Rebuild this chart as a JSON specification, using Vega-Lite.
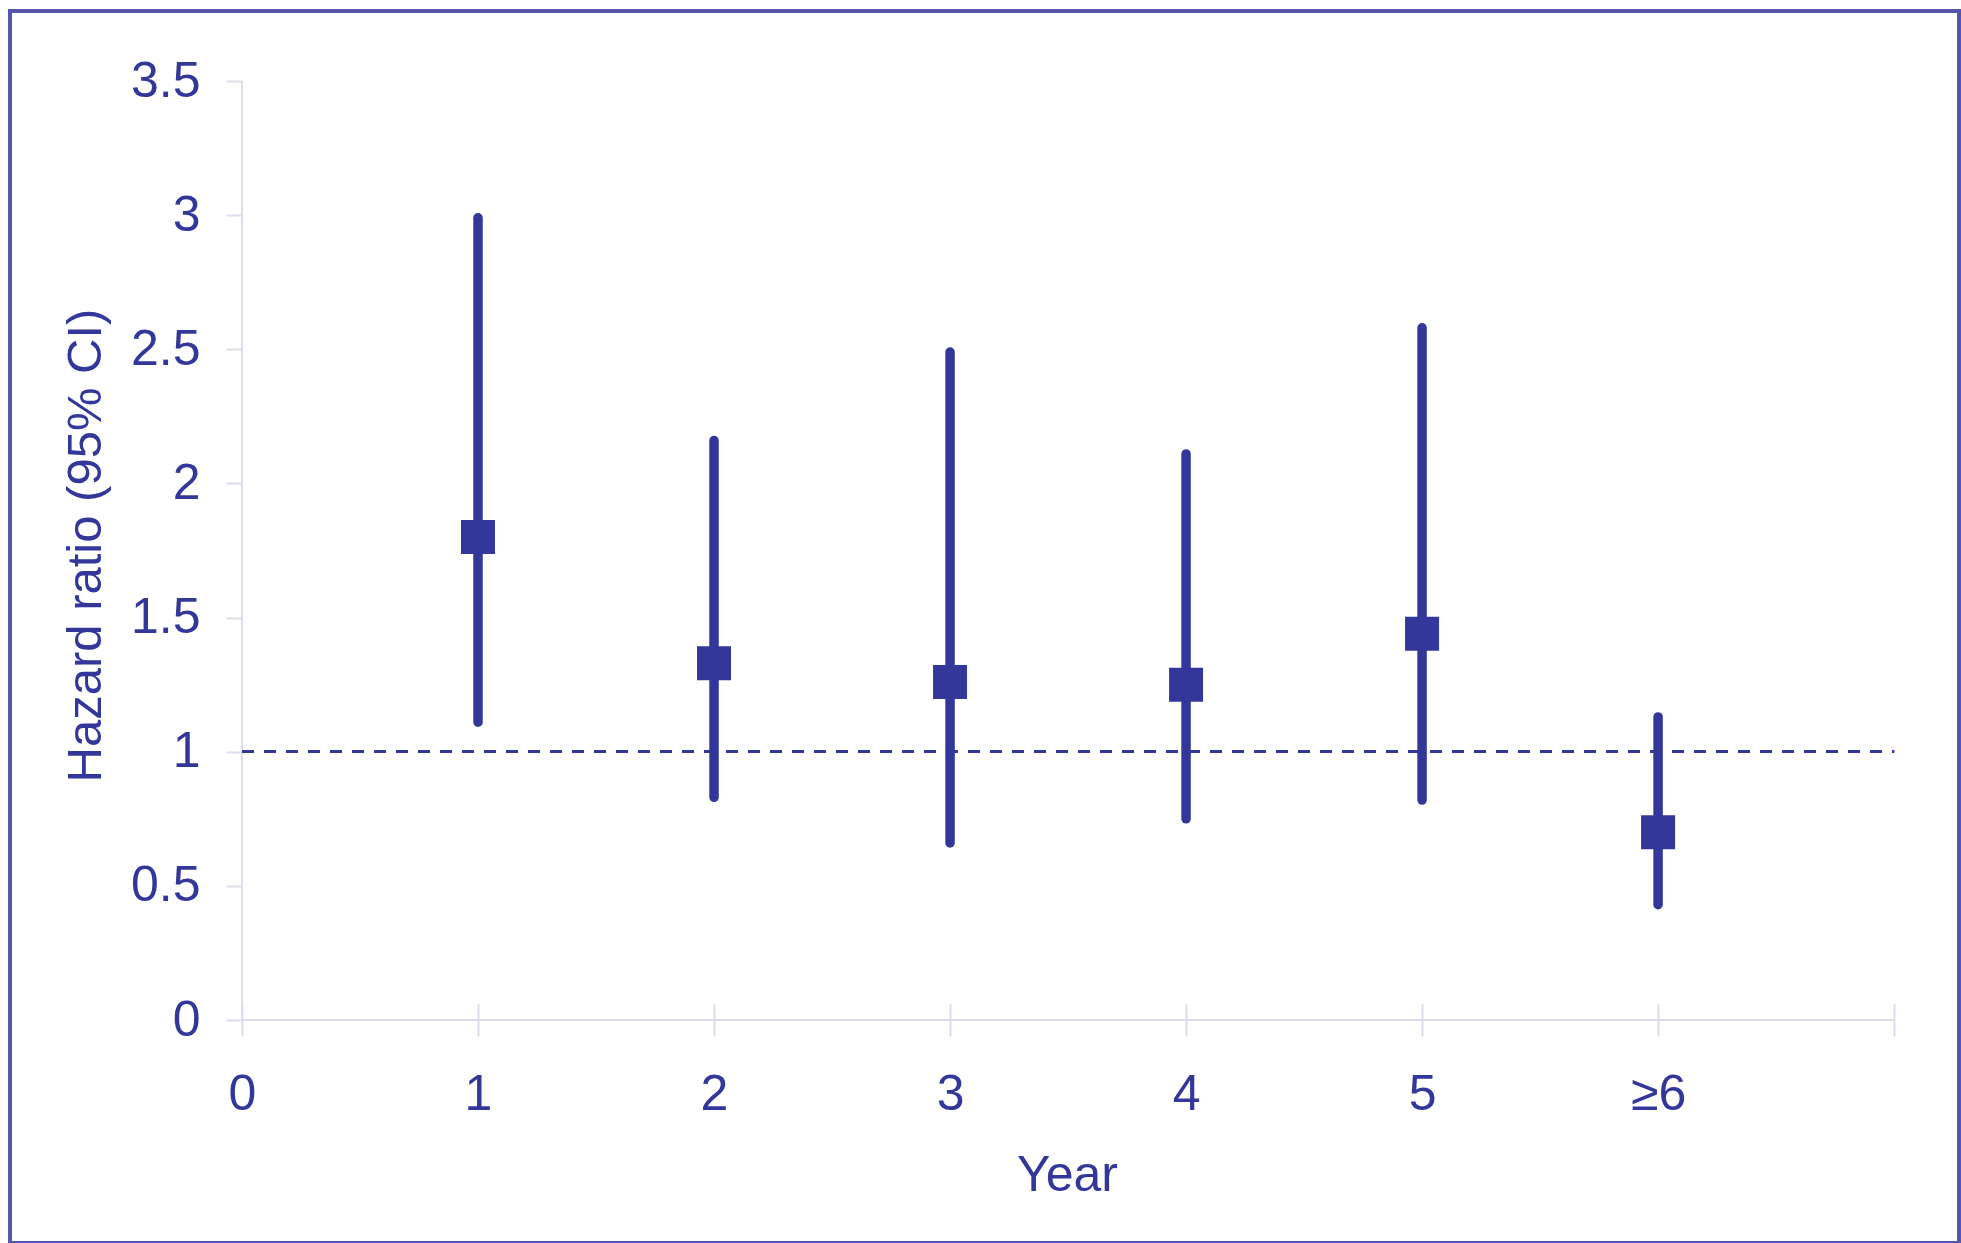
{
  "$schema": "https://vega.github.io/schema/vega-lite/v6.json",
  "width": 1949,
  "height": 1232,
  "autosize": {"type": "none"},
  "padding": {"left": 10, "top": 11, "right": 2, "bottom": 0},
  "background": "white",
  "config": {
    "view": {"stroke": "#5356aa", "strokeWidth": 4},
    "font": "Liberation Sans"
  },
  "data": {
    "values": [
      {"year": 1, "label": "1", "hr": 1.80, "lo": 1.11, "hi": 2.99},
      {"year": 2, "label": "2", "hr": 1.33, "lo": 0.83, "hi": 2.16},
      {"year": 3, "label": "3", "hr": 1.26, "lo": 0.66, "hi": 2.49},
      {"year": 4, "label": "4", "hr": 1.25, "lo": 0.75, "hi": 2.11},
      {"year": 5, "label": "5", "hr": 1.44, "lo": 0.82, "hi": 2.58},
      {"year": 6, "label": "≥6", "hr": 0.70, "lo": 0.43, "hi": 1.13}
    ]
  },
  "encoding": {
    "x": {
      "field": "year",
      "type": "quantitative",
      "scale": {"domain": [-0.983, 7.275], "nice": false, "zero": false},
      "axis": {
        "title": "Year",
        "orient": "bottom",
        "offset": -239,
        "values": [0, 1, 2, 3, 4, 5, 6, 7],
        "labelExpr": "datum.value == 6 ? '≥6' : (datum.value == 7 ? '' : datum.label)",
        "domain": false,
        "grid": false,
        "ticks": true,
        "tickSize": 32,
        "tickWidth": 2,
        "tickColor": "#dcdcee",
        "labelFontSize": 50,
        "labelColor": "#33379a",
        "labelPadding": 33,
        "labelFlush": false,
        "labelOverlap": false,
        "titleFontSize": 50,
        "titleFontWeight": "normal",
        "titleColor": "#33379a",
        "titleBaseline": "alphabetic",
        "titleX": 1057,
        "titleY": 186,
        "titleAnchor": null
      }
    },
    "y": {
      "field": "hr",
      "type": "quantitative",
      "scale": {"domain": [-0.831, 3.761], "nice": false, "zero": false},
      "axis": {
        "title": "Hazard ratio (95% CI)",
        "orient": "left",
        "offset": -232,
        "values": [0, 0.5, 1, 1.5, 2, 2.5, 3, 3.5],
        "format": "~g",
        "domain": false,
        "grid": false,
        "tickSize": 16,
        "tickWidth": 2,
        "tickColor": "#dcdcee",
        "labelFontSize": 50,
        "labelColor": "#33379a",
        "labelPadding": 26,
        "labelFlush": false,
        "labelOverlap": false,
        "titleFontSize": 49,
        "titleFontWeight": "normal",
        "titleColor": "#33379a",
        "titleAngle": 270,
        "titleBaseline": "alphabetic",
        "titleAlign": "center",
        "titleX": -142,
        "titleY": 534
      }
    }
  },
  "layer": [
    {
      "mark": {"type": "rule", "color": "#dcdcee", "strokeWidth": 2},
      "encoding": {
        "x": {"datum": 0, "type": "quantitative"},
        "x2": {"datum": 7},
        "y": {"datum": 0, "type": "quantitative"}
      }
    },
    {
      "mark": {"type": "rule", "color": "#dcdcee", "strokeWidth": 2},
      "encoding": {
        "x": {"datum": 0, "type": "quantitative"},
        "y": {"datum": 0, "type": "quantitative"},
        "y2": {"datum": 3.5}
      }
    },
    {
      "mark": {"type": "rule", "color": "#33379a", "strokeWidth": 2.5, "strokeDash": [12, 10]},
      "encoding": {
        "x": {"datum": 0, "type": "quantitative"},
        "x2": {"datum": 7},
        "y": {"datum": 1, "type": "quantitative"}
      }
    },
    {
      "mark": {"type": "rule", "color": "#33379a", "strokeWidth": 9.5, "strokeCap": "round"},
      "encoding": {
        "y": {"field": "lo", "type": "quantitative"},
        "y2": {"field": "hi"}
      }
    },
    {
      "mark": {"type": "point", "shape": "square", "filled": true, "size": 1156, "color": "#33379a", "opacity": 1},
      "encoding": {
        "tooltip": [
          {"field": "label", "type": "nominal", "title": "Year"},
          {"field": "hr", "type": "quantitative", "title": "HR"},
          {"field": "lo", "type": "quantitative", "title": "Lower"},
          {"field": "hi", "type": "quantitative", "title": "Upper"}
        ]
      }
    }
  ]
}
